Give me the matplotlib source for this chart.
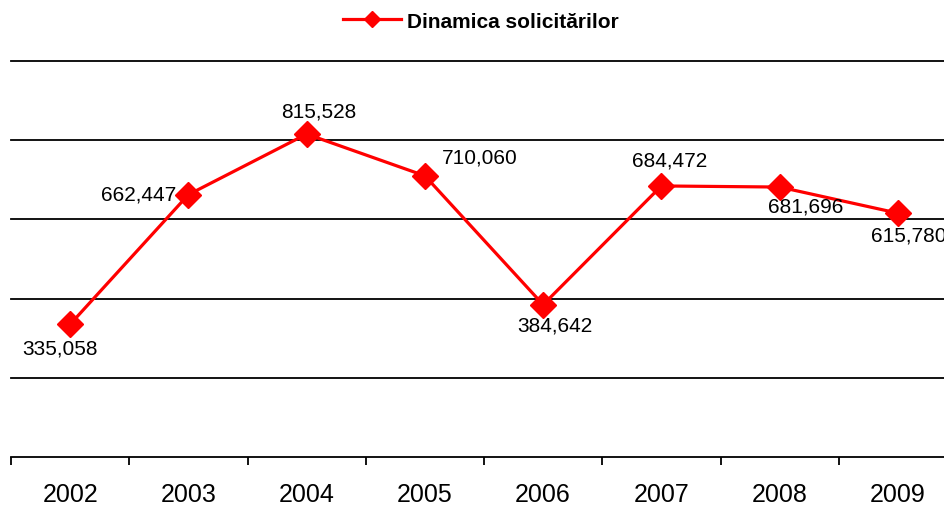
import matplotlib
matplotlib.use("Agg")
import matplotlib.pyplot as plt
from matplotlib.ticker import FixedLocator

plt.rcParams["font.family"] = ["Liberation Sans", "DejaVu Sans"]

years = ["2002", "2003", "2004", "2005", "2006", "2007", "2008", "2009"]
values = [335058, 662447, 815528, 710060, 384642, 684472, 681696, 615780]
labels = ["335,058", "662,447", "815,528", "710,060",
          "384,642", "684,472", "681,696", "615,780"]
# label offsets (pixels) relative to each point
offsets = [(-10, -24), (-50, 1), (12, 23), (55, 19),
           (12, -20), (8, 26), (26, -19), (11, -22)]

fig = plt.figure(figsize=(9.44, 5.06), dpi=100)
W, H = 944, 506
left, right = 11, 957
top, bottom = 62, 458
ax = fig.add_axes([left / W, (H - bottom) / H, (right - left) / W, (bottom - top) / H])

x = list(range(len(years)))
line, = ax.plot(x, values, color="#ff0000", linewidth=2.3, marker="D",
                markersize=13, markerfacecolor="#ff0000", markeredgecolor="#ff0000",
                label="Dinamica solicitărilor", clip_on=False, zorder=3)

for xi, v, lab, (dx, dy) in zip(x, values, labels, offsets):
    ax.annotate(lab, (xi, v), xytext=(dx, dy), textcoords="offset pixels",
                ha="center", va="center", fontsize=15, color="black",
                annotation_clip=False)

ax.set_xlim(-0.5, len(years) - 0.5)
ax.set_ylim(0, 1000000)

for yv in [200000, 400000, 600000, 800000, 1000000]:
    ax.axhline(yv, color="black", linewidth=1.3, zorder=1, clip_on=False)

for s in ["top", "right", "left"]:
    ax.spines[s].set_visible(False)
ax.spines["bottom"].set_linewidth(1.3)
ax.set_yticks([])

ax.xaxis.set_major_locator(FixedLocator([i - 0.5 for i in range(len(years) + 1)]))
ax.set_xticklabels([])
ax.xaxis.set_minor_locator(FixedLocator(x))
ax.set_xticklabels(years, minor=True, fontsize=18)
ax.tick_params(axis="x", which="major", length=6, width=1.3, direction="out")
ax.tick_params(axis="x", which="minor", length=0, pad=18)

fig.legend(handles=[line], loc="center", bbox_to_anchor=(481 / W, 1 - 22 / H),
           frameon=False, prop={"weight": "bold", "size": 15},
           handlelength=2.8, handletextpad=0.3, markerscale=0.6)

fig.savefig("out.png", dpi=100)
